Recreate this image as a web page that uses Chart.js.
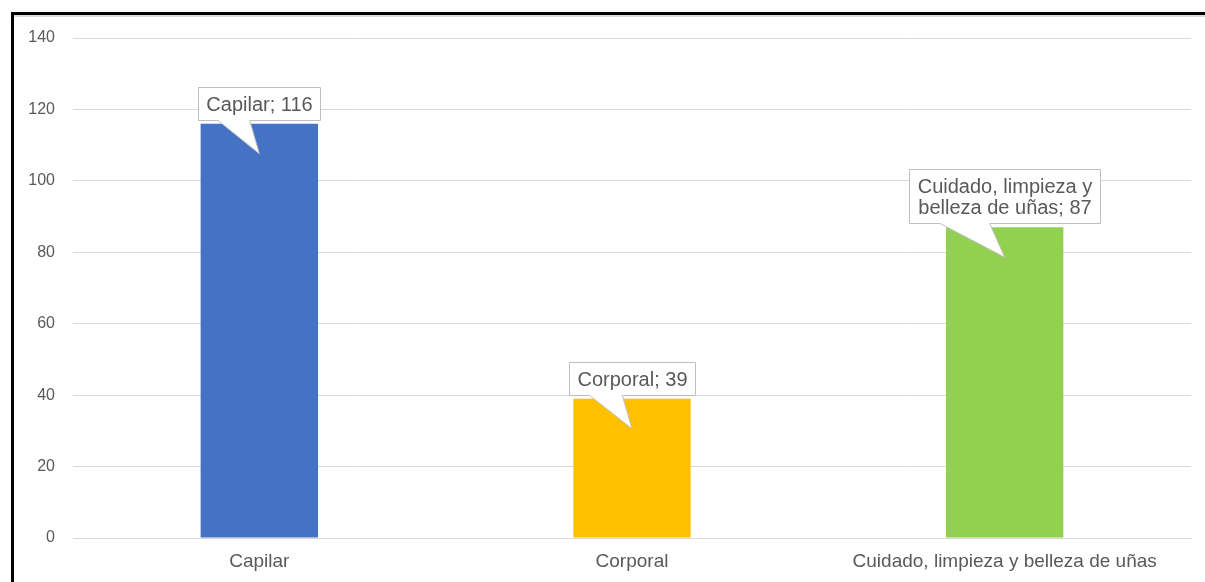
<!DOCTYPE html>
<html>
<head>
<meta charset="utf-8">
<script src="https://cdn.jsdelivr.net/npm/chart.js@4"></script>
<style>
  html, body { margin: 0; padding: 0; background: #fff; }
  #wrap { position: relative; width: 1205px; height: 582px; }
  #frame {
    position: absolute; left: 11px; top: 12px; right: -10px; bottom: -10px;
    border-top: 3px solid #000; border-left: 3px solid #000;
    pointer-events: none;
  }
  #frame:after {
    content: ""; position: absolute; left: 0; right: 0; top: 0; height: 2px; background: #dcdcdc;
  }
</style>
</head>
<body>
<div id="wrap">
  <canvas id="myChart" width="1205" height="582"></canvas>
  <div id="frame"></div>
</div>
<script>
var categories = ['Capilar', 'Corporal', 'Cuidado, limpieza y belleza de uñas'];
var values = [116, 39, 87];
var barColors = ['#4472C4', '#FFC000', '#92D050'];
// callout text, one entry per bar (lines split)
var calloutLines = [
  ['Capilar; 116'],
  ['Corporal; 39'],
  ['Cuidado, limpieza y', 'belleza de uñas; 87']
];
var yTicks = [0, 20, 40, 60, 80, 100, 120, 140];

var textGrey = '#595959';

// draws Excel-style speech-bubble labels over each bar
var calloutPlugin = {
  id: 'callouts',
  afterDatasetsDraw: function(chart) {
    var ctx = chart.ctx;
    var bars = chart.getDatasetMeta(0).data;
    ctx.save();
    ctx.font = '20px "Liberation Sans", Arial, sans-serif';
    bars.forEach(function(bar, i) {
      var lines = calloutLines[i];
      var lineH = 21, padX = 8, padY = 6;
      var w = 0;
      lines.forEach(function(l) { w = Math.max(w, ctx.measureText(l).width); });
      var bw = Math.round(w + padX * 2);
      var bh = lines.length * lineH + padY * 2;
      var left = Math.round(bar.x - bw / 2) + 0.5;
      var bottom = Math.round(bar.y - 4) + 0.5;
      var top = bottom - bh;
      var tipX = bar.x, tipY = bar.y + 30;
      var b1 = left + bw * 0.16, b2 = left + bw * 0.42;

      ctx.beginPath();
      ctx.moveTo(left, top);
      ctx.lineTo(left + bw, top);
      ctx.lineTo(left + bw, bottom);
      ctx.lineTo(b2, bottom);
      ctx.lineTo(tipX, tipY);
      ctx.lineTo(b1, bottom);
      ctx.lineTo(left, bottom);
      ctx.closePath();
      ctx.fillStyle = '#fff';
      ctx.fill();
      ctx.strokeStyle = '#bfbfbf';
      ctx.lineWidth = 1;
      ctx.stroke();

      ctx.fillStyle = textGrey;
      ctx.textAlign = 'center';
      ctx.textBaseline = 'middle';
      lines.forEach(function(l, k) {
        ctx.fillText(l, left + bw / 2, top + padY + lineH * k + lineH / 2 + 1);
      });
    });
    ctx.restore();
  }
};

var contx = document.getElementById('myChart').getContext('2d');
var myChart = new Chart(contx, {
  type: 'bar',
  data: {
    labels: categories,
    datasets: [{
      data: values,
      backgroundColor: barColors,
      borderWidth: 0,
      categoryPercentage: 1,
      barPercentage: 0.315
    }]
  },
  plugins: [calloutPlugin],
  options: {
    responsive: false,
    animation: false,
    layout: { padding: { left: 0, right: 14, top: 38, bottom: 0 } },
    plugins: {
      legend: { display: false },
      tooltip: { enabled: false }
    },
    scales: {
      x: {
        grid: { display: false, drawTicks: false },
        border: { color: '#d9d9d9', width: 1 },
        ticks: {
          color: textGrey,
          padding: 12,
          font: { family: '"Liberation Sans", Arial, sans-serif', size: 19 }
        },
        afterFit: function(scale) { scale.height = 44; }
      },
      y: {
        min: 0,
        max: 140,
        afterBuildTicks: function(scale) {
          scale.ticks = yTicks.map(function(v) { return { value: v }; });
        },
        grid: { color: '#d9d9d9', drawTicks: false },
        border: { display: false },
        ticks: {
          color: textGrey,
          padding: 18,
          font: { family: '"Liberation Sans", Arial, sans-serif', size: 16 }
        },
        afterFit: function(scale) { scale.width = 73; }
      }
    }
  }
});
</script>
</body>
</html>
